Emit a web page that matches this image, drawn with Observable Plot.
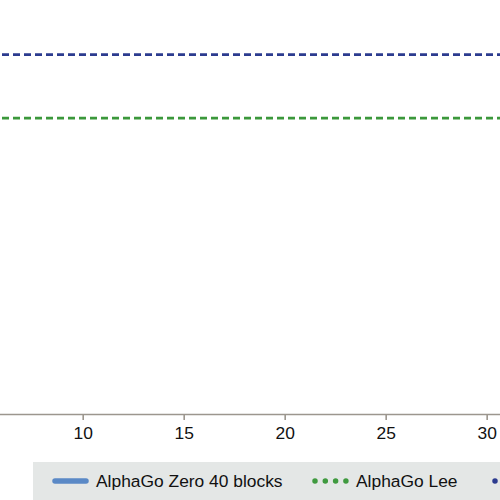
<!DOCTYPE html>
<html>
<head>
<meta charset="utf-8">
<script src="https://cdn.jsdelivr.net/npm/d3@7"></script>
<script src="https://cdn.jsdelivr.net/npm/@observablehq/plot@0.6"></script>
<style>
  html, body { margin: 0; padding: 0; background: #fff; overflow: hidden; width: 500px; height: 500px; }
  #chart svg { display: block; }
  #legend {
    position: absolute; left: 33px; top: 462px; width: 467px; height: 38px; overflow: hidden;
    background: #e4e7e6; font-family: "Liberation Sans", Arial, sans-serif; font-size: 17.4px; color: #111;
  }
  .item { position: absolute; top: 0; height: 38px; display: flex; align-items: center; white-space: nowrap; }
  .item svg { margin-right: 7px; }
</style>
</head>
<body>
<div id="chart"></div>
<div id="legend"></div>
<script>
// Reference levels (Elo)
const players = ["AlphaGo Master", "AlphaGo Lee"];
const elo = [4858, 3739];
const lineColors = ["#2c3b8f", "#3b983b"];

// x-axis ticks (days)
const xTicks = [10, 15, 20, 25, 30];

// Legend entries (the third entry's label falls outside the visible area in the reference)
const legendLabels = ["AlphaGo Zero 40 blocks", "AlphaGo Lee", ""];
const legendColors = ["#5a89c6", "#3f9a3f", "#2c3b8f"];
const legendStyles = ["solid", "dots", "dots"];

const refs = players.map((p, i) => ({player: p, elo: elo[i], color: lineColors[i]}));

const chart = Plot.plot({
  width: 500,
  height: 460,
  marginLeft: 0,
  marginRight: 0,
  marginTop: 0,
  marginBottom: 46,
  style: {fontFamily: "Liberation Sans, Arial, sans-serif", fontSize: "17.4px", color: "#111", background: "#fff", overflow: "visible"},
  x: {domain: [5.906, 30.66]},
  y: {domain: [-1485, 5810], axis: null},
  marks: [
    Plot.ruleY(refs, {y: "elo", stroke: "color", strokeWidth: 2.8, strokeDasharray: "7,4", strokeDashoffset: -2}),
    Plot.ruleY([-1485], {stroke: "#9c968e", strokeWidth: 1.6}),
    Plot.axisX({ticks: xTicks, tickSize: 6, tickPadding: 6, stroke: "#9c968e", strokeWidth: 1.6, fill: "#111", label: null, tickFormat: d => String(d)})
  ]
});
document.getElementById("chart").appendChild(chart);

// Legend
const legend = document.getElementById("legend");
const itemLefts = [19, 279, 459];
legendLabels.forEach((lab, i) => {
  const div = document.createElement("div");
  div.className = "item";
  div.style.left = itemLefts[i] + "px";
  const svg = d3.create("svg").attr("width", 37).attr("height", 10);
  const ln = svg.append("line").attr("x1", 3).attr("x2", 34).attr("y1", 5).attr("y2", 5)
    .attr("stroke", legendColors[i]).attr("stroke-width", 5.5).attr("stroke-linecap", "round");
  if (legendStyles[i] === "dots") ln.attr("stroke-dasharray", "0,10.3");
  div.appendChild(svg.node());
  if (lab) {
    const span = document.createElement("span");
    span.textContent = lab;
    div.appendChild(span);
  }
  legend.appendChild(div);
});
</script>
</body>
</html>
